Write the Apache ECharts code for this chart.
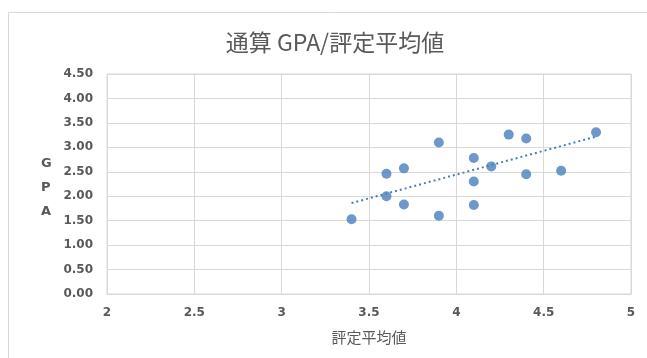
<!DOCTYPE html>
<html>
<head>
<meta charset="utf-8">
<script src="https://cdn.jsdelivr.net/npm/echarts@6/dist/echarts.min.js"></script>
<style>
  html, body { margin: 0; padding: 0; background: #fff; }
  #chart { width: 647px; height: 358px; }
</style>
</head>
<body>
<div id="chart"></div>
<script>
// 評定平均値 (x) and 通算 GPA (y) for each student
const hyoteiAvg = [3.4, 3.6, 3.6, 3.7, 3.7, 3.9, 3.9, 4.1, 4.1, 4.1, 4.2, 4.3, 4.4, 4.4, 4.6, 4.8];
const gpa       = [1.53, 2.46, 2.00, 2.57, 1.83, 3.10, 1.60, 2.78, 2.30, 1.82, 2.61, 3.26, 3.18, 2.45, 2.52, 3.31];

// linear trendline end points
const trendX = [3.4, 4.8];
const trendY = [1.86, 3.22];

const titleText = '通算 GPA/評定平均値';
const xName = '評定平均値';
const yNameLetters = ['G', 'P', 'A'];

const gray = '#595959';
const lineGray = '#d9d9d9';
const blue = '#4a7ebb';
const cjk = '"Noto Sans CJK JP", "Noto Sans", sans-serif';
const num = '"DejaVu Sans", Verdana, sans-serif';

const chart = echarts.init(document.getElementById('chart'), null, { renderer: 'canvas' });

chart.setOption({
  backgroundColor: '#fff',
  animation: false,
  title: {
    text: titleText,
    left: 330,
    textAlign: 'center',
    top: 26,
    textStyle: { fontFamily: cjk, fontSize: 23, fontWeight: 'normal', color: gray }
  },
  graphic: [
    {
      type: 'rect',
      shape: { x: 8.5, y: 12.5, width: 700, height: 400 },
      style: { fill: 'none', stroke: lineGray, lineWidth: 1 },
      silent: true
    },
    {
      type: 'text',
      left: 41,
      top: 152,
      style: {
        text: yNameLetters.join('\n'),
        fontFamily: num,
        fontSize: 13,
        fontWeight: 'bold',
        fill: gray,
        lineHeight: 24,
        align: 'center'
      }
    }
  ],
  grid: { left: 107, top: 74, width: 524, height: 220, show: true, borderColor: lineGray, borderWidth: 1 },
  xAxis: {
    type: 'value',
    min: 2, max: 5, interval: 0.5,
    name: xName,
    nameLocation: 'middle',
    nameGap: 36,
    nameTextStyle: { fontFamily: cjk, fontSize: 15, color: gray },
    axisLine: { show: true, lineStyle: { color: lineGray } },
    axisTick: { show: false },
    splitLine: { show: true, lineStyle: { color: lineGray, width: 1 } },
    axisLabel: {
      fontFamily: num, fontSize: 12, fontWeight: 'bold', color: gray, margin: 13,
      formatter: v => String(v)
    }
  },
  yAxis: {
    type: 'value',
    min: 0, max: 4.5, interval: 0.5,
    axisLine: { show: true, lineStyle: { color: lineGray } },
    axisTick: { show: false },
    splitLine: { show: true, lineStyle: { color: lineGray, width: 1 } },
    axisLabel: {
      fontFamily: num, fontSize: 12, fontWeight: 'bold', color: gray, margin: 14,
      formatter: v => v.toFixed(2)
    }
  },
  series: [
    {
      type: 'line',
      data: trendX.map((x, i) => [x, trendY[i]]),
      showSymbol: false,
      symbol: 'none',
      lineStyle: { color: blue, width: 2, type: [2, 3] },
      z: 1
    },
    {
      type: 'scatter',
      data: hyoteiAvg.map((x, i) => [x, gpa[i]]),
      symbol: 'circle',
      symbolSize: 10,
      itemStyle: { color: blue },
      z: 2
    }
  ]
});
</script>
</body>
</html>
